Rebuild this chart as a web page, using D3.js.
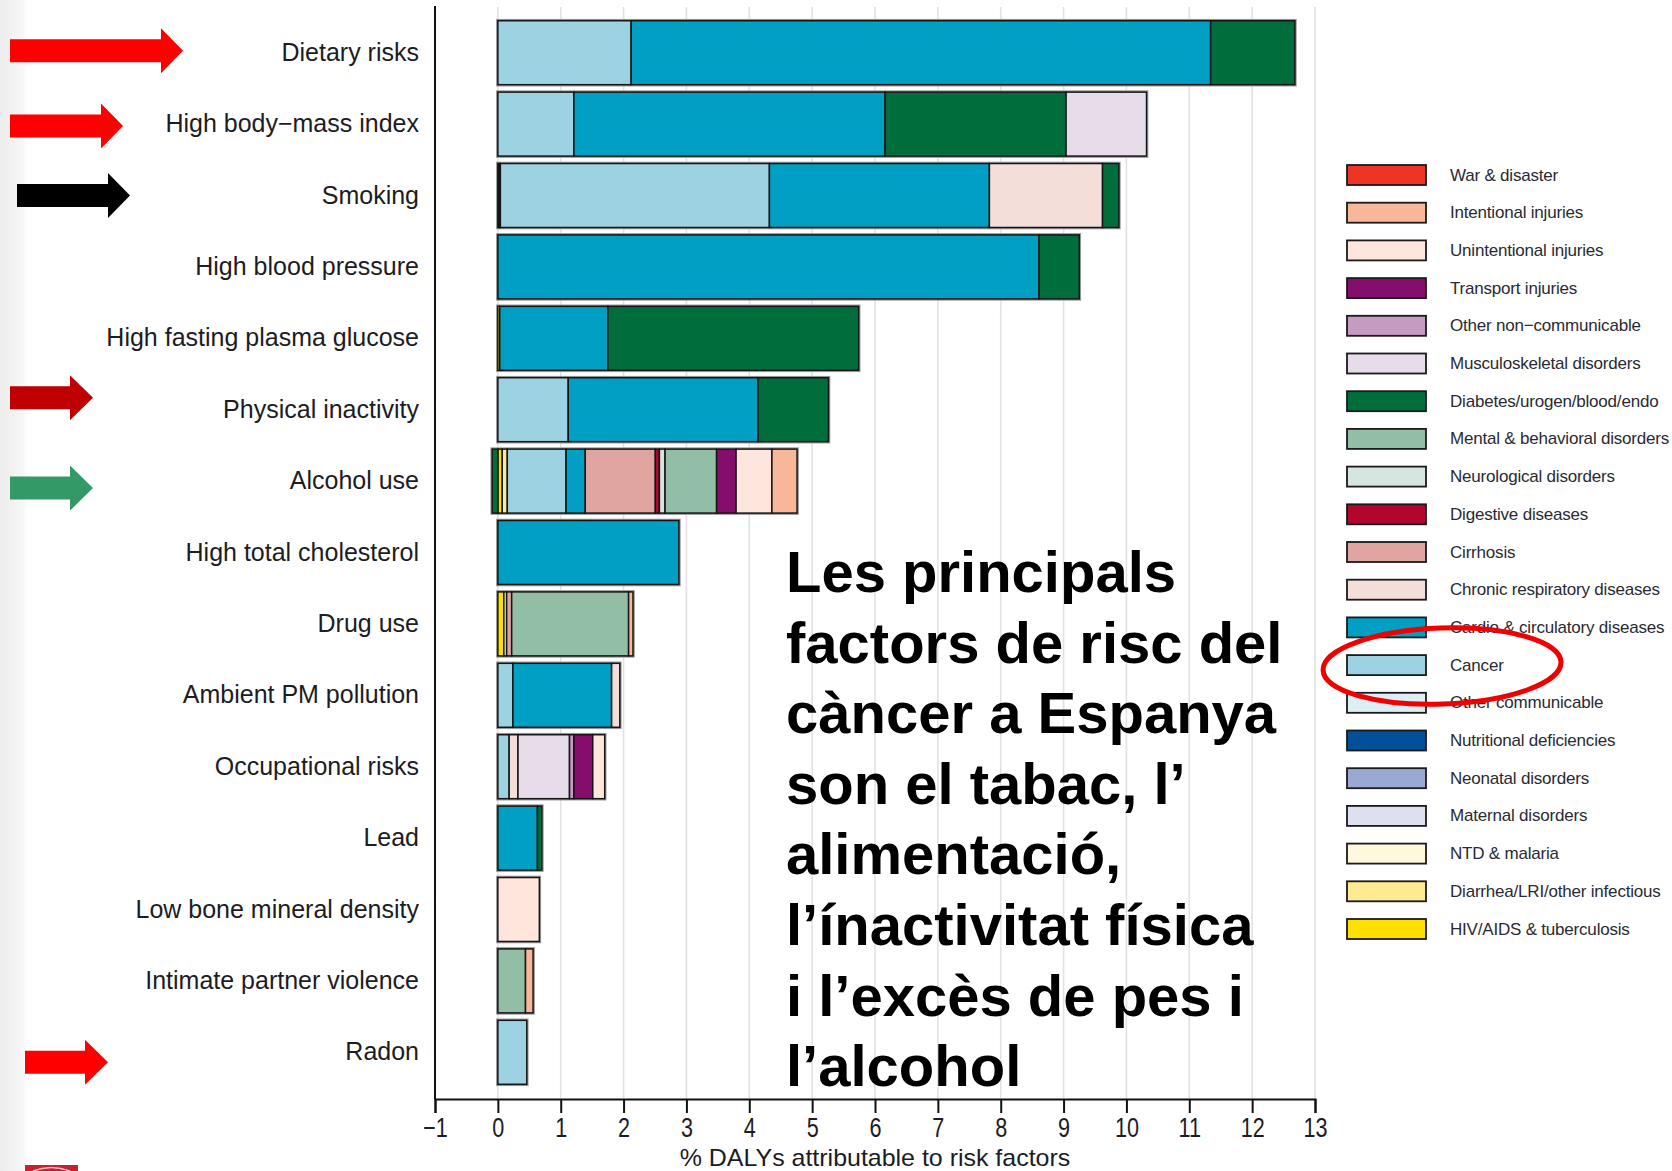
<!DOCTYPE html>
<html>
<head>
<meta charset="utf-8">
<script src="https://cdn.jsdelivr.net/npm/d3@7"></script>
<style>
  html, body { margin: 0; padding: 0; background: #fff; }
  svg { display: block; }
  text { font-family: "Liberation Sans", Arial, sans-serif; }
</style>
</head>
<body>
<svg id="chart" width="1672" height="1171"></svg>
<script>
// ---------------- DATA ----------------
const riskFactors = ["Dietary risks", "High body\u2212mass index", "Smoking", "High blood pressure",
  "High fasting plasma glucose", "Physical inactivity", "Alcohol use", "High total cholesterol",
  "Drug use", "Ambient PM pollution", "Occupational risks", "Lead", "Low bone mineral density",
  "Intimate partner violence", "Radon"];

// legend order (top to bottom)
const causes = ["War & disaster", "Intentional injuries", "Unintentional injuries", "Transport injuries",
  "Other non\u2212communicable", "Musculoskeletal disorders", "Diabetes/urogen/blood/endo",
  "Mental & behavioral disorders", "Neurological disorders", "Digestive diseases", "Cirrhosis",
  "Chronic respiratory diseases", "Cardio & circulatory diseases", "Cancer", "Other communicable",
  "Nutritional deficiencies", "Neonatal disorders", "Maternal disorders", "NTD & malaria",
  "Diarrhea/LRI/other infectious", "HIV/AIDS & tuberculosis"];

const causeColors = ["#ee3424", "#f9b79a", "#fee6dc", "#850d6b", "#c59bc1", "#e7dcea", "#006e3c",
  "#93bea6", "#d6e5df", "#b2062f", "#e0a5a1", "#f3ded9", "#009fc3", "#9cd2e2", "#dceff4",
  "#00509a", "#9aa9d2", "#dde0ef", "#fef8dc", "#feea93", "#fee000"];

// % DALYs per cause, one value per risk factor (same order as riskFactors)
const warDisaster      = [0,0,0,0,0,0,0,0,0,0,0,0,0,0,0];
const intentionalInj   = [0,0,0,0,0,0,0.40,0,0.07,0,0,0,0,0.12,0];
const unintentionalInj = [0,0,0,0,0,0,0.57,0,0,0,0.19,0,0.66,0,0];
const transportInj     = [0,0,0,0,0,0,0.31,0,0,0,0.30,0,0,0,0];
const otherNonComm     = [0,0,0,0,0,0,0,0,0,0,0.07,0,0,0,0];
const musculoskeletal  = [0,1.28,0,0,0,0,0,0,0,0,0.82,0,0,0,0];
const diabetesEndo     = [1.34,2.88,0.26,0.64,3.99,1.12,-0.09,0,0,0,0,0.07,0,0,0];
const mentalBehav      = [0,0,0,0,0,0,0.82,0,1.86,0,0,0,0,0.44,0];
const neurological     = [0,0,0,0,0,0,0.09,0,0,0,0,0,0,0,0];
const digestive        = [0,0,0,0,0,0,0.065,0,0,0,0,0,0,0,0];
const cirrhosis        = [0,0,0,0,0,0,1.115,0,0.08,0,0,0,0,0,0];
const chronicResp      = [0,0,1.80,0,0,0,0,0,0,0.13,0.14,0,0,0,0];
const cardioCirc       = [9.22,4.95,3.50,8.61,1.72,3.02,0.305,2.88,0,1.57,0,0.63,0,0,0];
const cancer           = [2.12,1.21,4.28,0,0,1.12,0.935,0,0,0.24,0.18,0,0,0,0.46];
const otherComm        = [0,0,0,0,0,0,0,0,0.045,0,0,0,0,0,0];
const nutritional      = [0,0,0,0,0,0,0,0,0,0,0,0,0,0,0];
const neonatal         = [0,0,0,0,0,0,0,0,0,0,0,0,0,0,0];
const maternal         = [0,0,0,0,0,0,0,0,0,0,0,0,0,0,0];
const ntdMalaria       = [0,0,0,0,0,0,0,0,0,0,0,0,0,0,0];
const diarrheaLRI      = [0,0,0.02,0,0,0,0.08,0,0,0,0,0,0,0,0];
const hivTB            = [0,0,0.02,0,0.03,0,0.07,0,0.095,0,0,0,0,0,0];

const causeValues = [warDisaster, intentionalInj, unintentionalInj, transportInj, otherNonComm,
  musculoskeletal, diabetesEndo, mentalBehav, neurological, digestive, cirrhosis, chronicResp,
  cardioCirc, cancer, otherComm, nutritional, neonatal, maternal, ntdMalaria, diarrheaLRI, hivTB];

const xTicks = [-1,0,1,2,3,4,5,6,7,8,9,10,11,12,13];
const xTitle = "% DALYs attributable to risk factors";
const noteLines = ["Les principals", "factors de risc del", "c\u00e0ncer a Espanya",
  "son el tabac, l\u2019", "alimentaci\u00f3,", "l\u2019\u00ednactivitat f\u00edsica",
  "i l\u2019exc\u00e8s de pes i", "l\u2019alcohol"];

// ---------------- CHART ----------------
const svg = d3.select("#chart");
svg.append("rect").attr("width", 1672).attr("height", 1171).attr("fill", "#fff");

// slide edge shading on the left
const defs = svg.append("defs");
const lg = defs.append("linearGradient").attr("id", "edge").attr("x1", 0).attr("x2", 1);
lg.append("stop").attr("offset", 0).attr("stop-color", "#ececec");
lg.append("stop").attr("offset", 0.8).attr("stop-color", "#f6f6f6");
lg.append("stop").attr("offset", 1).attr("stop-color", "#fdfdfd");
svg.append("rect").attr("x", 0).attr("y", 0).attr("width", 27).attr("height", 1171).attr("fill", "url(#edge)");

const x = d3.scaleLinear().domain([-1, 13]).range([435, 1315]);
const y = d3.scaleBand().domain(riskFactors).range([17, 1088]).paddingInner(0.104).paddingOuter(0.052);
const axisY = 1099;

// gridlines
svg.append("g").selectAll("line").data(xTicks).join("line")
  .attr("x1", d => x(d)).attr("x2", d => x(d))
  .attr("y1", 7).attr("y2", axisY)
  .attr("stroke", "#e2e2e2").attr("stroke-width", 1.6);

// table for stacking
const table = riskFactors.map((r, i) => {
  const row = { risk: r };
  causes.forEach((c, k) => { row[c] = causeValues[k][i]; });
  return row;
});
const stackOrder = causes.slice().reverse(); // HIV first (leftmost) ... War last
const color = d3.scaleOrdinal().domain(causes).range(causeColors);
const series = d3.stack().keys(stackOrder).offset(d3.stackOffsetDiverging)(table);

// halo outline per bar
const extents = riskFactors.map((r, i) => {
  let lo = 0, hi = 0;
  series.forEach(s => { lo = Math.min(lo, s[i][0], s[i][1]); hi = Math.max(hi, s[i][0], s[i][1]); });
  return { risk: r, lo, hi };
});
svg.append("g").selectAll("rect").data(extents).join("rect")
  .attr("x", d => x(d.lo)).attr("width", d => x(d.hi) - x(d.lo))
  .attr("y", d => y(d.risk)).attr("height", y.bandwidth())
  .attr("fill", "none").attr("stroke", "#9a9a9a").attr("stroke-width", 3.6);

const segs = [];
series.forEach(s => s.forEach((d, i) => {
  if (d[1] !== d[0]) segs.push({ cause: s.key, risk: riskFactors[i], x0: Math.min(d[0], d[1]), x1: Math.max(d[0], d[1]) });
}));
svg.append("g").selectAll("rect").data(segs).join("rect")
  .attr("x", d => x(d.x0)).attr("width", d => x(d.x1) - x(d.x0))
  .attr("y", d => y(d.risk)).attr("height", y.bandwidth())
  .attr("fill", d => color(d.cause))
  .attr("stroke", "#151515").attr("stroke-width", 1.5);

// y axis line and labels
svg.append("line").attr("x1", x(-1)).attr("x2", x(-1)).attr("y1", 6).attr("y2", axisY)
  .attr("stroke", "#111").attr("stroke-width", 2);
const yAxis = svg.append("g").attr("transform", `translate(${x(-1)},0)`)
  .call(d3.axisLeft(y).tickSize(0).tickPadding(16));
yAxis.select(".domain").remove();
yAxis.selectAll("text").attr("font-size", 25).attr("fill", "#1c1c24")
  .attr("font-family", "'Liberation Sans', Arial, sans-serif");

// x axis
const xAxis = svg.append("g").attr("transform", `translate(0,${axisY})`)
  .call(d3.axisBottom(x).tickValues(xTicks).tickSize(14).tickSizeOuter(14));
xAxis.select(".domain").attr("stroke", "#111").attr("stroke-width", 2);
xAxis.selectAll(".tick line").attr("stroke", "#111").attr("stroke-width", 2);
xAxis.selectAll(".tick text").attr("font-size", 27).attr("fill", "#1c1c24")
  .attr("font-family", "'Liberation Sans', Arial, sans-serif")
  .attr("y", 38).attr("dy", 0).attr("transform", "scale(0.8,1)");

svg.append("text").attr("x", (x(-1) + x(13)) / 2).attr("y", 1166)
  .attr("text-anchor", "middle").attr("font-size", 24).attr("fill", "#1c1c24")
  .attr("transform", `translate(${(x(-1) + x(13)) / 2},0) scale(1.04,1) translate(${-(x(-1) + x(13)) / 2},0)`)
  .text(xTitle);

// legend
const legend = svg.append("g");
const legY = d3.scalePoint().domain(causes).range([175, 929]);
legend.selectAll("rect").data(causes).join("rect")
  .attr("x", 1347).attr("width", 79).attr("y", d => legY(d) - 10).attr("height", 20)
  .attr("fill", d => color(d)).attr("stroke", "#1a1a1a").attr("stroke-width", 1.8);
legend.selectAll("text").data(causes).join("text")
  .attr("x", 1450).attr("y", d => legY(d)).attr("dominant-baseline", "central")
  .attr("font-size", 17).attr("letter-spacing", -0.2).attr("fill", "#2a2a33").text(d => d);

// red ellipse around "Cancer"
svg.append("ellipse").attr("cx", 1442).attr("cy", legY("Cancer") + 1).attr("rx", 119).attr("ry", 38)
  .attr("fill", "none").attr("stroke", "#f00000").attr("stroke-width", 5)
  .attr("transform", `rotate(-2,1442,${legY("Cancer")})`);

// big annotation text
svg.append("g").selectAll("text").data(noteLines).join("text")
  .attr("x", 786).attr("y", (d, i) => 592 + i * 70.6)
  .attr("font-size", 58).attr("font-weight", "bold").attr("fill", "#000")
  .text(d => d);

// arrows pointing at risk factors
const arrows = [
  { risk: "Dietary risks", x0: 10, xb: 161, tip: 183, dy: -2, col: "#ff0000" },
  { risk: "High body\u2212mass index", x0: 10, xb: 101, tip: 123, dy: 2, col: "#ff0000" },
  { risk: "Smoking", x0: 17, xb: 108, tip: 130, dy: 0, col: "#000000" },
  { risk: "Physical inactivity", x0: 10, xb: 70, tip: 93, dy: -12, col: "#c00000" },
  { risk: "Alcohol use", x0: 10, xb: 70, tip: 93, dy: 7, col: "#339966" },
  { risk: "Radon", x0: 25, xb: 85, tip: 108, dy: 10, col: "#ff0000" }
];
svg.append("g").selectAll("path").data(arrows).join("path")
  .attr("d", a => {
    const cy = y(a.risk) + y.bandwidth() / 2 + a.dy;
    const s = 11.5, h = 22.5;
    return `M${a.x0},${cy - s}H${a.xb}V${cy - h}L${a.tip},${cy}L${a.xb},${cy + h}V${cy + s}H${a.x0}Z`;
  })
  .attr("fill", a => a.col);

// partial logo at the bottom-left corner
svg.append("rect").attr("x", 25).attr("y", 1165).attr("width", 53).attr("height", 8).attr("fill", "#c8202c");
svg.append("path").attr("d", "M33,1171 Q51,1164 70,1171").attr("fill", "none").attr("stroke", "#f3c9cc").attr("stroke-width", 1.5);
</script>
</body>
</html>
